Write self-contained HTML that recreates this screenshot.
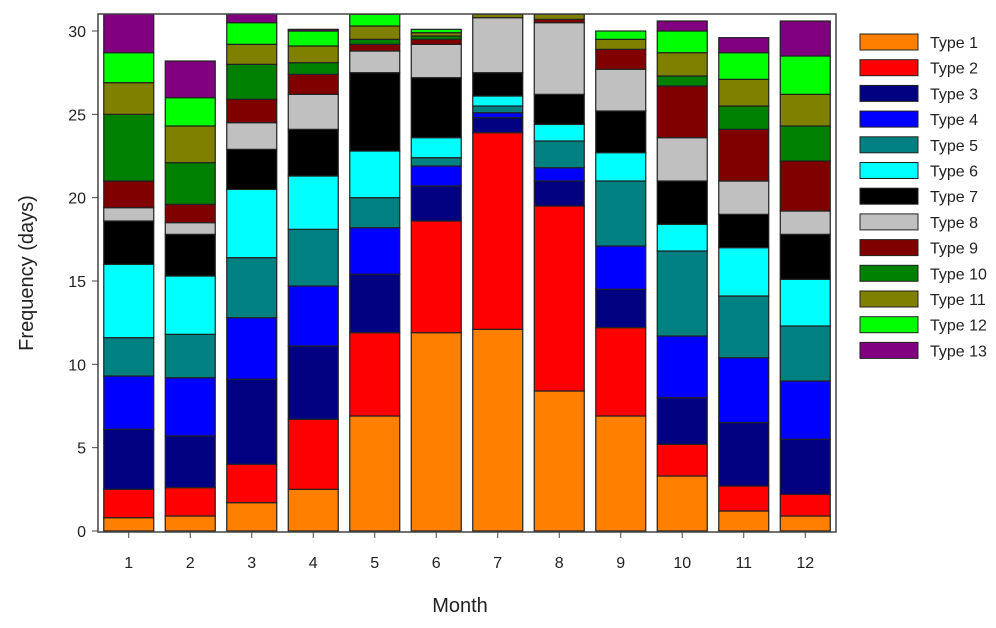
<!DOCTYPE html>
<html><head><meta charset="utf-8"><style>
html,body{margin:0;padding:0;background:#fff;}
svg{display:block;font-family:"Liberation Sans",Arial,sans-serif;}
</style></head><body>
<svg id="chart" width="996" height="628" viewBox="0 0 996 628">
<defs><clipPath id="plotclip"><rect x="98" y="14" width="738" height="518"/></clipPath></defs>
<g id="bars" clip-path="url(#plotclip)"></g>
<rect x="98" y="14" width="738" height="518" fill="none" stroke="#444" stroke-width="1.5"/>
<g id="axes"></g>
<text x="460" y="612" font-size="20" text-anchor="middle" fill="#222">Month</text>
<text transform="translate(33,273) rotate(-90)" font-size="20" text-anchor="middle" fill="#222">Frequency (days)</text>
<g id="legend"></g>
</svg>
<script>
const months = ["1","2","3","4","5","6","7","8","9","10","11","12"];
const typeNames = ["Type 1","Type 2","Type 3","Type 4","Type 5","Type 6","Type 7","Type 8","Type 9","Type 10","Type 11","Type 12","Type 13"];
const typeColors = ["#ff8000","#ff0000","#000080","#0000ff","#008080","#00ffff","#000000","#c0c0c0","#800000","#008000","#808000","#00ff00","#800080"];
const type1 = [0.8,0.9,1.7,2.5,6.9,11.9,12.1,8.4,6.9,3.3,1.2,0.9];
const type2 = [1.7,1.7,2.3,4.2,5.0,6.7,11.8,11.1,5.3,1.9,1.5,1.3];
const type3 = [3.6,3.1,5.1,4.4,3.5,2.1,0.9,1.5,2.3,2.8,3.8,3.3];
const type4 = [3.2,3.5,3.7,3.6,2.8,1.2,0.3,0.8,2.6,3.7,3.9,3.5];
const type5 = [2.3,2.6,3.6,3.4,1.8,0.5,0.4,1.6,3.9,5.1,3.7,3.3];
const type6 = [4.4,3.5,4.1,3.2,2.8,1.2,0.6,1.0,1.7,1.6,2.9,2.8];
const type7 = [2.6,2.5,2.4,2.8,4.7,3.6,1.4,1.8,2.5,2.6,2.0,2.7];
const type8 = [0.8,0.7,1.6,2.1,1.3,2.0,3.3,4.3,2.5,2.6,2.0,1.4];
const type9 = [1.6,1.1,1.4,1.2,0.4,0.3,0.0,0.2,1.2,3.1,3.1,3.0];
const type10 = [4.0,2.5,2.1,0.7,0.3,0.2,0.0,0.0,0.0,0.6,1.4,2.1];
const type11 = [1.9,2.2,1.2,1.0,0.8,0.2,0.2,0.3,0.6,1.4,1.6,1.9];
const type12 = [1.8,1.7,1.3,0.9,0.7,0.2,0.2,0.2,0.5,1.3,1.6,2.3];
const type13 = [2.8,2.2,1.0,0.1,0.5,0.0,0.0,0.0,0.0,0.6,0.9,2.1];
const yTicks = [0,5,10,15,20,25,30];

const series = [type1,type2,type3,type4,type5,type6,type7,type8,type9,type10,type11,type12,type13];
const NS = "http://www.w3.org/2000/svg";
const X0 = 98, X1 = 836, Y0 = 531, Y30 = 31;
function yScale(v){ return Y0 - v * (Y0 - Y30) / 30; }
const step = (X1 - X0) / months.length;
function xCenter(i){ return X0 + step * (i + 0.5); }
const barW = 50;
const bars = document.getElementById('bars');
months.forEach((m, i) => {
  let cum = 0;
  series.forEach((s, k) => {
    const v = s[i];
    if (v <= 0) { return; }
    const yTop = yScale(cum + v), yBot = yScale(cum);
    const r = document.createElementNS(NS, 'rect');
    r.setAttribute('x', xCenter(i) - barW / 2);
    r.setAttribute('y', yTop);
    r.setAttribute('width', barW);
    r.setAttribute('height', yBot - yTop);
    r.setAttribute('fill', typeColors[k]);
    r.setAttribute('stroke', '#222');
    r.setAttribute('stroke-width', '1.2');
    
    
    bars.appendChild(r);
    cum += v;
  });
});
const axes = document.getElementById('axes');
yTicks.forEach(t => {
  const y = yScale(t);
  const l = document.createElementNS(NS, 'line');
  l.setAttribute('x1', 92); l.setAttribute('x2', 98);
  l.setAttribute('y1', y); l.setAttribute('y2', y);
  l.setAttribute('stroke', '#444');
  
  
  axes.appendChild(l);
  const tx = document.createElementNS(NS, 'text');
  tx.setAttribute('x', 86); tx.setAttribute('y', y + 6);
  tx.setAttribute('text-anchor', 'end'); tx.setAttribute('font-size', '16');
  tx.setAttribute('fill', '#222');
  tx.textContent = t;
  
  
  axes.appendChild(tx);
});
months.forEach((m, i) => {
  const x = xCenter(i);
  const l = document.createElementNS(NS, 'line');
  l.setAttribute('x1', x); l.setAttribute('x2', x);
  l.setAttribute('y1', 532); l.setAttribute('y2', 538);
  l.setAttribute('stroke', '#444');
  
  
  axes.appendChild(l);
  const tx = document.createElementNS(NS, 'text');
  tx.setAttribute('x', x); tx.setAttribute('y', 568);
  tx.setAttribute('text-anchor', 'middle'); tx.setAttribute('font-size', '16');
  tx.setAttribute('fill', '#222');
  tx.textContent = m;
  
  
  axes.appendChild(tx);
});
const legend = document.getElementById('legend');
typeNames.forEach((n, k) => {
  const y = 34 + k * 25.7;
  const r = document.createElementNS(NS, 'rect');
  r.setAttribute('x', 860); r.setAttribute('y', y);
  r.setAttribute('width', 58); r.setAttribute('height', 16);
  r.setAttribute('fill', typeColors[k]); r.setAttribute('stroke', '#222');
  
  
  legend.appendChild(r);
  const tx = document.createElementNS(NS, 'text');
  tx.setAttribute('x', 930); tx.setAttribute('y', y + 14);
  tx.setAttribute('font-size', '16'); tx.setAttribute('fill', '#222');
  tx.textContent = n;
  
  
  legend.appendChild(tx);
});
</script>
</body></html>
